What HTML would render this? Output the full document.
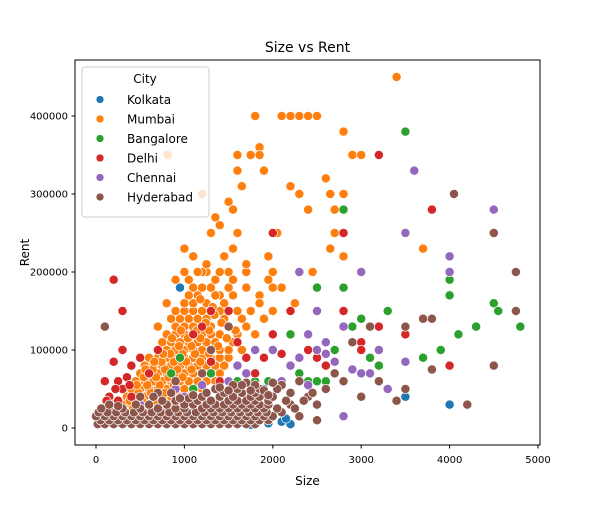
<!DOCTYPE html>
<html><head><meta charset="utf-8"><style>
body{margin:0;background:#fff;}
svg text{font-family:"DejaVu Sans","Liberation Sans",sans-serif;fill:#000;}
</style></head><body>
<svg id="chart" width="600" height="500" viewBox="0 0 600 500">
<rect x="0" y="0" width="600" height="500" fill="#fff"/>
<text x="307.5" y="52" font-size="14" text-anchor="middle">Size vs Rent</text>
<text x="0" y="0" font-size="12" text-anchor="middle" transform="translate(29,252.5) rotate(-90)">Rent</text>
<g id="marks"></g>
<rect x="75" y="60" width="465" height="385" fill="none" stroke="#000" stroke-width="1"/>
<g id="axes"></g>
<text x="307.5" y="485" font-size="12" text-anchor="middle">Size</text>
<g id="legend"></g>
</svg>
<script>
const xTicks=[0,1000,2000,3000,4000,5000];
const yTicks=[0,100000,200000,300000,400000];
const cities=["Kolkata","Mumbai","Bangalore","Delhi","Chennai","Hyderabad"];
const colors=["#1f77b4","#ff7f0e","#2ca02c","#d62728","#9467bd","#8c564b"];
// [size, rent in thousands]
const kolkataPts=[[950,180],[3500,40],[4000,30],[2200,5],[1800,10],[1700,8],[1500,12],[1300,10],[1100,7],[900,6],[700,8],[500,6],[300,5],[1600,15],[1900,12],[2100,8],[1200,18],[1400,20],[800,12],[600,10],[400,8],[1000,15],[2150,12],[1950,6],[1750,4]];
const mumbaiPts=[[3400,450],[1800,400],[2100,400],[2200,400],[2300,400],[2400,400],[2500,400],[2800,380],[1850,360],[1850,350],[1750,350],[1600,350],[2900,350],[3000,350],[3200,350],[810,350],[1200,300],[1600,330],[1900,330],[1500,290],[1550,280],[2200,310],[2300,300],[2600,320],[2650,300],[2700,280],[2400,280],[1350,270],[1300,250],[1400,260],[1600,250],[2700,250],[2000,250],[2050,250],[1000,230],[1100,220],[1250,200],[1200,200],[900,190],[1500,200],[1700,200],[2000,200],[3700,230],[2800,220],[1700,180],[1850,170],[1400,170],[2100,180],[2250,160],[2450,200],[2650,230],[2800,300],[1650,310],[1550,230],[1450,220],
[350,20],[450,20],[550,20],[650,20],
[300,30],[400,30],[500,30],[600,30],[700,30],[800,30],[900,30],
[350,40],[450,40],[550,40],[650,40],[750,40],[850,40],[950,40],[1050,40],
[400,50],[500,50],[600,50],[700,50],[800,50],[900,50],[1000,50],[1100,50],[1200,50],
[450,60],[550,60],[650,60],[750,60],[850,60],[950,60],[1050,60],[1150,60],[1250,60],[1350,60],
[500,70],[600,70],[700,70],[800,70],[900,70],[1000,70],[1100,70],[1200,70],[1300,70],[1400,70],
[550,80],[650,80],[750,80],[850,80],[950,80],[1050,80],[1150,80],[1250,80],[1350,80],[1450,80],
[600,90],[700,90],[800,90],[900,90],[1000,90],[1100,90],[1200,90],[1300,90],[1400,90],[1500,90],
[700,100],[800,100],[900,100],[1000,100],[1100,100],[1200,100],[1300,100],[1400,100],[1500,100],[1650,100],
[750,110],[850,110],[950,110],[1050,110],[1150,110],[1250,110],[1350,110],[1550,110],
[800,120],[900,120],[1000,120],[1100,120],[1200,120],[1300,120],[1400,120],[1600,120],[1800,120],
[700,130],[900,130],[1000,130],[1100,130],[1200,130],[1300,130],[1500,130],[1700,130],
[850,140],[950,140],[1050,140],[1150,140],[1250,140],[1450,140],[1650,140],[1900,140],
[900,150],[1000,150],[1100,150],[1200,150],[1300,150],[1400,150],[1600,150],[1750,150],[2000,150],
[800,160],[1000,160],[1100,160],[1250,160],[1450,160],[1850,160],
[1050,170],[1150,170],[1350,170],[1550,170],
[1100,180],[1200,180],[1300,180],[1500,180],[2000,180],
[900,190],[1050,190],[1350,190],[1550,190],[1950,190],
[1000,200],[1150,200],[1400,200],[1700,210],[1950,220],[1250,210],
[420,25],[520,35],[620,45],[720,55],[820,65],[920,75],[1020,85],[1120,95],[480,45],[580,55],[680,65],[780,75],[880,85],[980,95],[1080,105],[1180,115],[1280,125],[540,65],[640,75],[740,85],[840,95],[940,105],[1040,115],[1140,125],[1240,135],[1340,145],[380,35],[680,35],[780,45],[880,55],[980,65],[1080,75],[1180,85],[1280,95],[1380,105],[1480,115],[1580,125],[1320,155],[1420,135],[1180,165],[960,125],[860,115],[760,95],[660,85],[560,75],[460,55]];
const bangalorePts=[[3500,380],[2800,280],[3300,150],[4000,190],[4000,170],[4500,160],[4550,150],[4800,130],[4300,130],[4100,120],[3900,100],[3000,140],[2900,130],[2700,100],[3200,80],[2500,60],[2400,60],[1800,60],[1600,60],[1300,70],[850,70],[950,90],[1100,50],[3700,90],[3100,90],[2600,60],[2500,180],[2800,180],[2100,55],[1950,60],[2300,70],[2200,120]];
const delhiPts=[[200,190],[300,150],[3200,350],[2800,250],[3800,280],[2000,250],[2200,150],[2800,150],[3500,120],[3000,110],[2000,120],[1500,150],[1300,150],[1100,120],[700,100],[500,90],[400,80],[200,85],[300,100],[100,60],[150,40],[200,30],[600,70],[1200,130],[1600,110],[1700,90],[2400,100],[2600,80],[3000,100],[3200,130],[3500,130],[3800,140],[4000,80],[250,60],[300,50],[350,65],[150,25],[250,35],[100,15],[50,10],[300,20],[400,40],[450,30],[1400,60],[1900,90],[2100,95],[1800,70],[1300,85],[2500,90],[120,35],[220,50],[80,25],[180,20],[380,55]];
const chennaiPts=[[3600,330],[4500,280],[3500,250],[4000,220],[4000,200],[3000,200],[2300,200],[2800,130],[3200,100],[2500,150],[2400,120],[2000,100],[1800,100],[2500,100],[3000,70],[3300,50],[3500,85],[2800,15],[2300,90],[2600,95],[2700,85],[2900,75],[3100,70],[2200,80],[1700,70],[1500,60],[1200,55],[900,50],[500,30],[1000,40],[1400,45],[2100,60],[2400,55],[1900,50],[2600,110],[1600,80],[800,25],[1100,20]];
const hyderabadPts=[[4050,300],[4500,250],[4750,200],[4750,150],[4500,80],[4200,30],[3700,140],[3800,140],[3800,75],[3500,130],[3100,130],[2900,110],[3400,35],[3500,50],[3000,40],[2700,70],[2500,30],[100,130],[3200,60],[2800,60],[2600,50],[2400,40],[2300,60],[2200,45],[2100,55],
[20,5],[100,5],[200,5],[300,5],[400,5],[500,5],[600,5],[700,5],[800,5],[900,5],[1000,5],[1100,5],[1200,5],[1300,5],[1400,5],[1500,5],[1600,5],[1700,5],[1800,5],
[50,10],[150,10],[250,10],[350,10],[450,10],[550,10],[650,10],[750,10],[850,10],[950,10],[1050,10],[1150,10],[1250,10],[1350,10],[1450,10],[1550,10],[1650,10],[1750,10],[1850,10],[1950,10],
[0,15],[100,15],[200,15],[300,15],[400,15],[500,15],[600,15],[700,15],[800,15],[900,15],[1000,15],[1100,15],[1200,15],[1300,15],[1400,15],[1500,15],[1600,15],[1700,15],[1800,15],[1900,15],[2000,15],
[30,20],[130,20],[230,20],[330,20],[430,20],[530,20],[630,20],[730,20],[830,20],[930,20],[1030,20],[1130,20],[1230,20],[1330,20],[1430,20],[1530,20],[1630,20],[1730,20],[1830,20],[1930,20],[2100,20],
[60,25],[300,25],[500,25],[700,25],[900,25],[1000,25],[1200,25],[1300,25],[1400,25],[1500,25],[1600,25],[1700,25],[1800,25],[1900,25],[2050,25],
[150,30],[600,30],[800,30],[1000,30],[1100,30],[1250,30],[1350,30],[1450,30],[1550,30],[1650,30],[1750,30],[1850,30],[1950,30],[2200,30],
[900,35],[1150,35],[1300,35],[1500,35],[1600,35],[1700,35],[1800,35],[1950,35],
[1200,40],[1400,40],[1550,40],[1750,40],[1850,40],[2000,40],
[1450,45],[1650,45],[1800,45],[1600,50],[1850,50],[2050,50],[1800,55],[1300,100],[1500,130],[1200,70],[900,60],[700,45],[500,40],[2300,15],[2500,10],
[250,28],[450,30],[1050,38],[1250,45],[1350,50],[1550,55],[1700,58],[1900,48],[2000,58],[1950,42],[1100,42],[950,38],[750,35],[850,45],[650,40],[2150,35],[2250,25],[2350,35],[2450,45],[1750,48],[1500,48],[1400,52],[1650,55]];
const seriesPts=[kolkataPts,mumbaiPts,bangalorePts,delhiPts,chennaiPts,hyderabadPts];

const NS="http://www.w3.org/2000/svg";
function xs(v){return 96+v*0.0884;}
function ys(v){return 428-v*0.00078;}
const marks=document.getElementById('marks');
seriesPts.forEach((pts,ci)=>{
  const g=document.createElementNS(NS,'g');
  
  
  pts.forEach(p=>{
    const c=document.createElementNS(NS,'circle');
    c.setAttribute('cx',xs(p[0]));c.setAttribute('cy',ys(p[1]*1000));
    c.setAttribute('r',4.6);c.setAttribute('fill',colors[ci]);
    c.setAttribute('stroke','#fff');c.setAttribute('stroke-width',0.7);
    
    
    g.appendChild(c);
  });
  marks.appendChild(g);
});
const axes=document.getElementById('axes');
xTicks.forEach(t=>{
  const l=document.createElementNS(NS,'line');
  l.setAttribute('x1',xs(t));l.setAttribute('x2',xs(t));l.setAttribute('y1',445);l.setAttribute('y2',448.5);l.setAttribute('stroke','#000');
  
  
  axes.appendChild(l);
  const tx=document.createElementNS(NS,'text');
  tx.setAttribute('x',xs(t));tx.setAttribute('y',463);tx.setAttribute('font-size','10');tx.setAttribute('text-anchor','middle');
  tx.textContent=t;
  
  
  axes.appendChild(tx);
});
yTicks.forEach(t=>{
  const l=document.createElementNS(NS,'line');
  l.setAttribute('x1',71.5);l.setAttribute('x2',75);l.setAttribute('y1',ys(t));l.setAttribute('y2',ys(t));l.setAttribute('stroke','#000');
  
  
  axes.appendChild(l);
  const tx=document.createElementNS(NS,'text');
  tx.setAttribute('x',68);tx.setAttribute('y',ys(t)+3.5);tx.setAttribute('font-size','10');tx.setAttribute('text-anchor','end');
  tx.textContent=t;
  
  
  axes.appendChild(tx);
});
const lg=document.getElementById('legend');
const box=document.createElementNS(NS,'rect');
box.setAttribute('x',82);box.setAttribute('y',67);box.setAttribute('width',127);box.setAttribute('height',150);box.setAttribute('rx',3);
box.setAttribute('fill','#fff');box.setAttribute('fill-opacity','0.8');box.setAttribute('stroke','#ccc');


lg.appendChild(box);
const ttl=document.createElementNS(NS,'text');
ttl.setAttribute('x',145);ttl.setAttribute('y',83);ttl.setAttribute('font-size','12');ttl.setAttribute('text-anchor','middle');ttl.textContent='City';


lg.appendChild(ttl);
cities.forEach((c,i)=>{
  const y=100+i*19.5;
  const dot=document.createElementNS(NS,'circle');
  dot.setAttribute('cx',100);dot.setAttribute('cy',y-0.5);dot.setAttribute('r',4);dot.setAttribute('fill',colors[i]);dot.setAttribute('stroke','#fff');dot.setAttribute('stroke-width',0.7);
  
  
  lg.appendChild(dot);
  const t=document.createElementNS(NS,'text');
  t.setAttribute('x',127);t.setAttribute('y',y+4);t.setAttribute('font-size','12');t.textContent=c;
  
  
  lg.appendChild(t);
});
</script>
</body></html>
